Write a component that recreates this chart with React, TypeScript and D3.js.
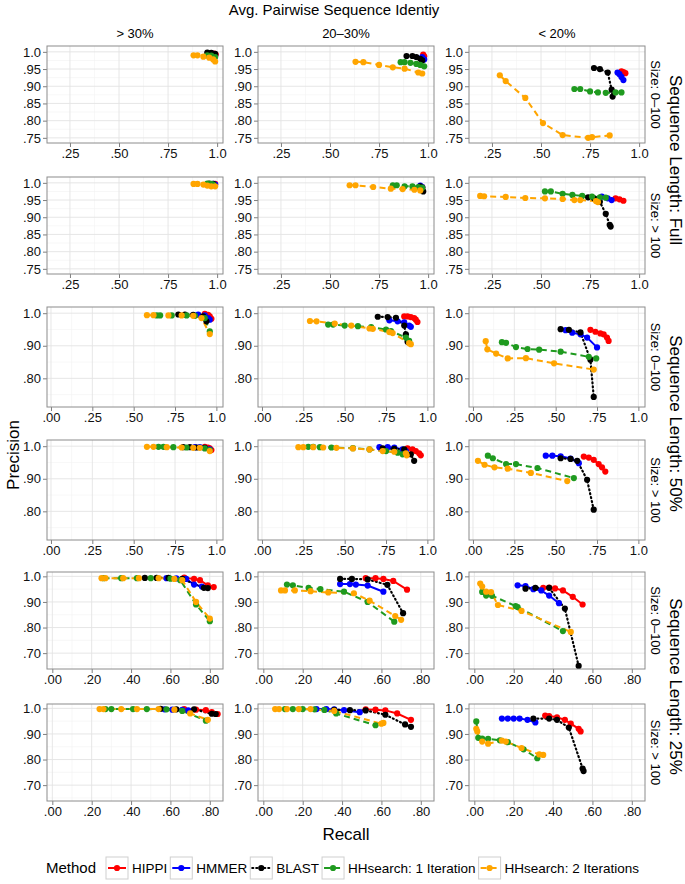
import React, { useEffect, useRef } from 'react';
import * as d3 from 'd3';

type Pt = [number, number];
type Panel = { HIPPI: Pt[]; HMMER: Pt[]; BLAST: Pt[]; HH1: Pt[]; HH2: Pt[] };

const methods = ['HIPPI', 'HMMER', 'BLAST', 'HH1', 'HH2'];
const methodNames = ['HIPPI', 'HMMER', 'BLAST', 'HHsearch: 1 Iteration', 'HHsearch: 2 Iterations'];
const methodColors = ['#ff0000', '#0000ff', '#000000', '#1f9a1f', '#ffa500'];
const methodDash = ['', '', '1,3', '6,4', '6,4'];

const identityLabels = ['> 30%', '20–30%', '< 20%'];
const sizeLabels = ['Size: 0–100', 'Size: > 100'];
const lengthLabels = ['Sequence Length: Full', 'Sequence Length: 50%', 'Sequence Length: 25%'];

const xTicksFull = [0.25, 0.5, 0.75, 1.0];
const yTicksFull = [0.75, 0.8, 0.85, 0.9, 0.95, 1.0];
const xTicksHalf = [0, 0.25, 0.5, 0.75, 1.0];
const yTicksHalf = [0.8, 0.9, 1.0];
const xTicksQuarter = [0, 0.2, 0.4, 0.6, 0.8];
const yTicksQuarter = [0.7, 0.8, 0.9, 1.0];

// Sequence length: Full
const fullSmallHigh: Panel = {
  HIPPI: [[0.985, 0.995], [0.993, 0.992]],
  HMMER: [[0.975, 0.995], [0.99, 0.99]],
  BLAST: [[0.95, 0.998], [0.97, 0.997], [0.99, 0.994]],
  HH1: [[0.95, 0.99], [0.97, 0.989], [0.99, 0.985]],
  HH2: [[0.88, 0.99], [0.9, 0.99], [0.93, 0.986], [0.96, 0.983], [0.98, 0.978], [0.99, 0.972]],
};
const fullSmallMid: Panel = {
  HIPPI: [[0.975, 0.992], [0.98, 0.987]],
  HMMER: [[0.97, 0.985], [0.98, 0.978]],
  BLAST: [[0.89, 0.988], [0.92, 0.988], [0.94, 0.985], [0.96, 0.98], [0.97, 0.975]],
  HH1: [[0.86, 0.97], [0.88, 0.97], [0.91, 0.968], [0.94, 0.965], [0.96, 0.962], [0.98, 0.958]],
  HH2: [[0.63, 0.971], [0.67, 0.97], [0.75, 0.962], [0.82, 0.955], [0.88, 0.951], [0.95, 0.94], [0.97, 0.937]],
};
const fullSmallLow: Panel = {
  HIPPI: [[0.91, 0.943], [0.92, 0.941], [0.93, 0.938]],
  HMMER: [[0.89, 0.94], [0.9, 0.935], [0.91, 0.927], [0.92, 0.918]],
  BLAST: [[0.77, 0.953], [0.8, 0.95], [0.84, 0.94], [0.86, 0.89], [0.865, 0.87]],
  HH1: [[0.67, 0.892], [0.7, 0.892], [0.75, 0.885], [0.79, 0.882], [0.83, 0.881], [0.88, 0.882], [0.91, 0.882]],
  HH2: [[0.29, 0.932], [0.32, 0.915], [0.42, 0.866], [0.51, 0.793], [0.61, 0.758], [0.74, 0.75], [0.76, 0.752], [0.85, 0.757]],
};
const fullLargeHigh: Panel = {
  HIPPI: [[0.99, 0.997]],
  HMMER: [[0.98, 0.997], [0.99, 0.995]],
  BLAST: [[0.96, 0.998], [0.98, 0.997]],
  HH1: [[0.95, 0.998], [0.97, 0.997], [0.98, 0.995]],
  HH2: [[0.88, 0.997], [0.9, 0.997], [0.93, 0.995], [0.95, 0.992], [0.97, 0.99], [0.99, 0.99]],
};
const fullLargeMid: Panel = {
  HIPPI: [[0.97, 0.988]],
  HMMER: [[0.96, 0.992], [0.97, 0.988]],
  BLAST: [[0.96, 0.99], [0.97, 0.985], [0.975, 0.975]],
  HH1: [[0.82, 0.993], [0.84, 0.993], [0.88, 0.99], [0.92, 0.99], [0.95, 0.988], [0.97, 0.986]],
  HH2: [[0.6, 0.993], [0.63, 0.993], [0.72, 0.988], [0.81, 0.983], [0.87, 0.982], [0.93, 0.98], [0.96, 0.978]],
};
const fullLargeLow: Panel = {
  HIPPI: [[0.88, 0.955], [0.9, 0.952], [0.92, 0.948]],
  HMMER: [[0.81, 0.96], [0.84, 0.955], [0.86, 0.95]],
  BLAST: [[0.74, 0.958], [0.77, 0.955], [0.8, 0.945], [0.83, 0.91], [0.85, 0.878], [0.855, 0.873]],
  HH1: [[0.52, 0.975], [0.55, 0.975], [0.61, 0.968], [0.66, 0.965], [0.71, 0.962], [0.76, 0.96], [0.8, 0.958], [0.83, 0.957]],
  HH2: [[0.19, 0.962], [0.21, 0.961], [0.32, 0.959], [0.42, 0.956], [0.52, 0.955], [0.61, 0.953], [0.67, 0.95], [0.7, 0.95], [0.78, 0.947], [0.79, 0.944]],
};

// Sequence length: 50%
const halfSmallHigh: Panel = {
  HIPPI: [[0.93, 0.998], [0.95, 0.995], [0.96, 0.99], [0.97, 0.983]],
  HMMER: [[0.89, 0.996], [0.93, 0.993], [0.95, 0.985], [0.96, 0.98]],
  BLAST: [[0.77, 0.996], [0.81, 0.996], [0.86, 0.995], [0.92, 0.99], [0.94, 0.975]],
  HH1: [[0.64, 0.993], [0.66, 0.993], [0.73, 0.993], [0.82, 0.993], [0.87, 0.992], [0.93, 0.985], [0.96, 0.944]],
  HH2: [[0.58, 0.994], [0.62, 0.994], [0.71, 0.993], [0.79, 0.993], [0.86, 0.992], [0.91, 0.985], [0.96, 0.936]],
};
const halfSmallMid: Panel = {
  HIPPI: [[0.86, 0.99], [0.88, 0.99], [0.9, 0.988], [0.92, 0.985], [0.93, 0.98], [0.94, 0.973]],
  HMMER: [[0.77, 0.978], [0.82, 0.975], [0.86, 0.972], [0.89, 0.962], [0.9, 0.958]],
  BLAST: [[0.7, 0.989], [0.76, 0.988], [0.81, 0.986], [0.86, 0.962], [0.87, 0.935], [0.88, 0.912]],
  HH1: [[0.4, 0.965], [0.43, 0.965], [0.5, 0.962], [0.58, 0.96], [0.66, 0.957], [0.75, 0.95], [0.78, 0.945], [0.87, 0.925], [0.89, 0.915]],
  HH2: [[0.29, 0.976], [0.33, 0.975], [0.44, 0.968], [0.54, 0.962], [0.65, 0.953], [0.67, 0.952], [0.77, 0.942], [0.79, 0.939], [0.89, 0.908], [0.9, 0.905]],
};
const halfSmallLow: Panel = {
  HIPPI: [[0.71, 0.949], [0.74, 0.943], [0.77, 0.938], [0.79, 0.935], [0.81, 0.925], [0.82, 0.915]],
  HMMER: [[0.56, 0.948], [0.6, 0.94], [0.65, 0.935], [0.69, 0.925], [0.75, 0.895]],
  BLAST: [[0.53, 0.951], [0.58, 0.949], [0.65, 0.941], [0.71, 0.857], [0.73, 0.743]],
  HH1: [[0.175, 0.911], [0.2, 0.909], [0.26, 0.896], [0.33, 0.89], [0.4, 0.888], [0.53, 0.882], [0.7, 0.866], [0.745, 0.861]],
  HH2: [[0.077, 0.914], [0.087, 0.889], [0.14, 0.876], [0.21, 0.861], [0.32, 0.862], [0.49, 0.846], [0.73, 0.827]],
};
const halfLargeHigh: Panel = {
  HIPPI: [[0.93, 0.998], [0.95, 0.996], [0.96, 0.993], [0.97, 0.988]],
  HMMER: [[0.87, 0.997], [0.9, 0.997], [0.93, 0.995], [0.96, 0.99]],
  BLAST: [[0.8, 0.997], [0.84, 0.997], [0.88, 0.996], [0.93, 0.995]],
  HH1: [[0.65, 0.998], [0.68, 0.998], [0.74, 0.997], [0.82, 0.996], [0.93, 0.993], [0.96, 0.988]],
  HH2: [[0.58, 0.998], [0.62, 0.998], [0.7, 0.997], [0.79, 0.996], [0.86, 0.995], [0.9, 0.995], [0.96, 0.985]],
};
const halfLargeMid: Panel = {
  HIPPI: [[0.88, 0.993], [0.91, 0.99], [0.93, 0.985], [0.95, 0.978], [0.96, 0.972]],
  HMMER: [[0.71, 0.997], [0.76, 0.997], [0.8, 0.996], [0.85, 0.99], [0.87, 0.985]],
  BLAST: [[0.73, 0.993], [0.8, 0.992], [0.86, 0.99], [0.9, 0.975], [0.92, 0.955]],
  HH1: [[0.28, 0.998], [0.31, 0.998], [0.35, 0.997], [0.42, 0.996], [0.55, 0.994], [0.65, 0.99], [0.75, 0.985], [0.82, 0.98], [0.85, 0.975]],
  HH2: [[0.22, 0.997], [0.25, 0.997], [0.31, 0.997], [0.37, 0.996], [0.45, 0.995], [0.55, 0.993], [0.65, 0.99], [0.73, 0.985], [0.8, 0.983], [0.87, 0.978], [0.875, 0.972]],
};
const halfLargeLow: Panel = {
  HIPPI: [[0.67, 0.968], [0.7, 0.965], [0.73, 0.958], [0.76, 0.945], [0.78, 0.935], [0.8, 0.922]],
  HMMER: [[0.44, 0.971], [0.48, 0.971], [0.53, 0.969], [0.59, 0.962], [0.64, 0.948]],
  BLAST: [[0.53, 0.963], [0.59, 0.961], [0.63, 0.955], [0.69, 0.897], [0.73, 0.805]],
  HH1: [[0.09, 0.971], [0.12, 0.963], [0.2, 0.945], [0.26, 0.945], [0.39, 0.933], [0.61, 0.902]],
  HH2: [[0.03, 0.955], [0.07, 0.943], [0.13, 0.935], [0.21, 0.931], [0.35, 0.918], [0.57, 0.893]],
};

// Sequence length: 25%
const quarterSmallHigh: Panel = {
  HIPPI: [[0.67, 0.995], [0.72, 0.99], [0.75, 0.985], [0.79, 0.965], [0.82, 0.958]],
  HMMER: [[0.58, 0.993], [0.63, 0.992], [0.68, 0.99], [0.72, 0.968], [0.76, 0.96]],
  BLAST: [[0.47, 0.994], [0.53, 0.994], [0.59, 0.994], [0.66, 0.99], [0.77, 0.955], [0.79, 0.954]],
  HH1: [[0.26, 0.993], [0.35, 0.993], [0.43, 0.993], [0.5, 0.993], [0.6, 0.991], [0.65, 0.985], [0.73, 0.89], [0.8, 0.825]],
  HH2: [[0.25, 0.993], [0.27, 0.993], [0.36, 0.993], [0.44, 0.993], [0.54, 0.993], [0.62, 0.99], [0.66, 0.985], [0.73, 0.9], [0.8, 0.835]],
};
const quarterSmallMid: Panel = {
  HIPPI: [[0.52, 0.993], [0.57, 0.993], [0.61, 0.99], [0.66, 0.982], [0.73, 0.948]],
  HMMER: [[0.39, 0.97], [0.44, 0.97], [0.47, 0.968], [0.53, 0.964], [0.61, 0.94]],
  BLAST: [[0.39, 0.99], [0.45, 0.99], [0.53, 0.988], [0.63, 0.967], [0.71, 0.856]],
  HH1: [[0.12, 0.968], [0.15, 0.965], [0.23, 0.955], [0.29, 0.95], [0.41, 0.94], [0.53, 0.9], [0.665, 0.823]],
  HH2: [[0.09, 0.945], [0.11, 0.945], [0.16, 0.945], [0.24, 0.942], [0.33, 0.937], [0.46, 0.934], [0.54, 0.905], [0.67, 0.845], [0.7, 0.83]],
};
const quarterSmallLow: Panel = {
  HIPPI: [[0.35, 0.955], [0.38, 0.956], [0.41, 0.953], [0.45, 0.945], [0.5, 0.92], [0.55, 0.89]],
  HMMER: [[0.22, 0.965], [0.26, 0.962], [0.3, 0.95], [0.34, 0.945], [0.38, 0.925], [0.43, 0.895]],
  BLAST: [[0.26, 0.952], [0.31, 0.955], [0.38, 0.955], [0.46, 0.874], [0.53, 0.65]],
  HH1: [[0.04, 0.939], [0.06, 0.925], [0.09, 0.924], [0.21, 0.884], [0.22, 0.88], [0.45, 0.786]],
  HH2: [[0.03, 0.972], [0.04, 0.96], [0.06, 0.94], [0.085, 0.938], [0.12, 0.888], [0.24, 0.865], [0.49, 0.783]],
};
const quarterLargeHigh: Panel = {
  HIPPI: [[0.67, 0.997], [0.73, 0.995], [0.78, 0.993], [0.81, 0.985], [0.84, 0.978]],
  HMMER: [[0.57, 0.996], [0.61, 0.995], [0.66, 0.994], [0.69, 0.992]],
  BLAST: [[0.55, 0.998], [0.63, 0.996], [0.72, 0.996], [0.81, 0.979], [0.83, 0.978]],
  HH1: [[0.27, 0.997], [0.3, 0.997], [0.41, 0.997], [0.48, 0.997], [0.58, 0.996], [0.66, 0.99], [0.78, 0.952]],
  HH2: [[0.24, 0.997], [0.26, 0.997], [0.35, 0.997], [0.43, 0.997], [0.54, 0.997], [0.62, 0.995], [0.7, 0.98], [0.79, 0.955]],
};
const quarterLargeMid: Panel = {
  HIPPI: [[0.52, 0.996], [0.57, 0.995], [0.62, 0.992], [0.68, 0.98], [0.75, 0.955]],
  HMMER: [[0.27, 0.997], [0.32, 0.997], [0.36, 0.996], [0.41, 0.993], [0.49, 0.985]],
  BLAST: [[0.36, 0.994], [0.44, 0.993], [0.52, 0.992], [0.62, 0.975], [0.72, 0.937], [0.75, 0.928]],
  HH1: [[0.11, 0.997], [0.15, 0.997], [0.2, 0.997], [0.26, 0.996], [0.31, 0.994], [0.37, 0.98], [0.57, 0.934]],
  HH2: [[0.06, 0.997], [0.08, 0.997], [0.12, 0.997], [0.18, 0.997], [0.24, 0.997], [0.36, 0.99], [0.6, 0.94], [0.61, 0.943]],
};
const quarterLargeLow: Panel = {
  HIPPI: [[0.36, 0.972], [0.38, 0.97], [0.42, 0.965], [0.46, 0.955], [0.49, 0.94], [0.53, 0.92], [0.54, 0.91]],
  HMMER: [[0.14, 0.96], [0.17, 0.96], [0.2, 0.96], [0.23, 0.96], [0.27, 0.955], [0.31, 0.945]],
  BLAST: [[0.3, 0.96], [0.38, 0.96], [0.42, 0.955], [0.48, 0.925], [0.55, 0.765], [0.555, 0.755]],
  HH1: [[0.01, 0.949], [0.02, 0.885], [0.04, 0.882], [0.07, 0.881], [0.13, 0.875], [0.17, 0.868], [0.25, 0.84], [0.32, 0.805]],
  HH2: [[0.01, 0.92], [0.015, 0.91], [0.04, 0.87], [0.07, 0.862], [0.14, 0.874], [0.16, 0.87], [0.24, 0.845], [0.33, 0.82], [0.35, 0.818]],
};

const W = 685;
const H = 884;
const colLeft = [47, 258, 469];
const panelW = 176;
const font = 'Liberation Sans, Arial, Helvetica, sans-serif';

const groups = [
  {
    rows: [[fullSmallHigh, fullSmallMid, fullSmallLow], [fullLargeHigh, fullLargeMid, fullLargeLow]],
    tops: [46, 177], h: 97,
    xDomain: [0.133, 1.03], yDomain: [0.735, 1.017],
    xTicks: xTicksFull, yTicks: yTicksFull,
  },
  {
    rows: [[halfSmallHigh, halfSmallMid, halfSmallLow], [halfLargeHigh, halfLargeMid, halfLargeLow]],
    tops: [307, 440], h: 100,
    xDomain: [-0.024, 1.04], yDomain: [0.712, 1.019],
    xTicks: xTicksHalf, yTicks: yTicksHalf,
  },
  {
    rows: [[quarterSmallHigh, quarterSmallMid, quarterSmallLow], [quarterLargeHigh, quarterLargeMid, quarterLargeLow]],
    tops: [572, 704], h: 97,
    xDomain: [-0.027, 0.867], yDomain: [0.638, 1.017],
    xTicks: xTicksQuarter, yTicks: yTicksQuarter,
  },
];

const fmt = (v: number) => (v >= 0.999 ? '1.0' : d3.format('.2f')(v).replace(/^0/, ''));

const minors = (ticks: number[], domain: number[]) => {
  const step = ticks[1] - ticks[0];
  return ticks.map(t => t - step / 2).concat([ticks[ticks.length - 1] + step / 2])
    .filter(v => v > domain[0] && v < domain[1]);
};

const App = () => {
  const ref = useRef<SVGSVGElement>(null);

  useEffect(() => {
    document.body.style.margin = '0';
    const svg = d3.select(ref.current);
    svg.selectAll('*').remove();
    svg.append('rect').attr('width', W).attr('height', H).attr('fill', '#fff');

    // top title and column strips
    svg.append('text').attr('x', 334).attr('y', 15).attr('text-anchor', 'middle')
      .attr('font-size', 15).attr('font-family', font).text('Avg. Pairwise Sequence Identiy');
    identityLabels.forEach((lab, i) => {
      svg.append('text').attr('x', colLeft[i] + panelW / 2).attr('y', 38).attr('text-anchor', 'middle')
        .attr('font-size', 13).attr('font-family', font).text(lab);
    });

    groups.forEach((grp, gi) => {
      const ys = grp.tops.map(top => d3.scaleLinear().domain(grp.yDomain).range([top + grp.h, top]));
      grp.rows.forEach((row, ri) => {
        const top = grp.tops[ri];
        const y = ys[ri];
        row.forEach((panel, ci) => {
          const left = colLeft[ci];
          const x = d3.scaleLinear().domain(grp.xDomain).range([left, left + panelW]);
          const g = svg.append('g');

          // grid
          minors(grp.xTicks, grp.xDomain).forEach(v => {
            g.append('line').attr('x1', x(v)).attr('x2', x(v)).attr('y1', top).attr('y2', top + grp.h)
              .attr('stroke', '#f2f2f2').attr('stroke-width', 0.6);
          });
          minors(grp.yTicks, grp.yDomain).forEach(v => {
            g.append('line').attr('x1', left).attr('x2', left + panelW).attr('y1', y(v)).attr('y2', y(v))
              .attr('stroke', '#f2f2f2').attr('stroke-width', 0.6);
          });
          grp.xTicks.forEach(v => {
            g.append('line').attr('x1', x(v)).attr('x2', x(v)).attr('y1', top).attr('y2', top + grp.h)
              .attr('stroke', '#e3e3e3').attr('stroke-width', 0.9);
          });
          grp.yTicks.forEach(v => {
            g.append('line').attr('x1', left).attr('x2', left + panelW).attr('y1', y(v)).attr('y2', y(v))
              .attr('stroke', '#e3e3e3').attr('stroke-width', 0.9);
          });

          // axes
          const xAxis = g.append('g').attr('transform', `translate(0,${top + grp.h})`)
            .call(d3.axisBottom(x).tickValues(grp.xTicks).tickFormat(d => fmt(+d)).tickSize(4).tickPadding(2));
          const yAxis = g.append('g').attr('transform', `translate(${left},0)`)
            .call(d3.axisLeft(y).tickValues(grp.yTicks).tickFormat(d => fmt(+d)).tickSize(4).tickPadding(2));
          [xAxis, yAxis].forEach(a => {
            a.select('.domain').remove();
            a.selectAll('line').attr('stroke', '#7f7f7f');
            a.selectAll('text').attr('font-size', 13).attr('font-family', font).attr('fill', '#111');
          });

          // lines then points
          const line = d3.line<Pt>().x(d => x(d[0])).y(d => y(d[1]));
          methods.forEach((m, mi) => {
            const pts = (panel as any)[m] as Pt[];
            g.append('path').datum(pts).attr('d', line).attr('fill', 'none')
              .attr('stroke', methodColors[mi]).attr('stroke-width', mi === 2 ? 2.2 : 2)
              .attr('stroke-linecap', mi === 2 ? 'round' : 'butt')
              .attr('stroke-dasharray', methodDash[mi] || null);
          });
          methods.forEach((m, mi) => {
            const pts = (panel as any)[m] as Pt[];
            g.selectAll(null).data(pts).enter().append('circle')
              .attr('cx', d => x(d[0])).attr('cy', d => y(d[1])).attr('r', 3.1)
              .attr('fill', methodColors[mi]);
          });

          g.append('rect').attr('x', left).attr('y', top).attr('width', panelW).attr('height', grp.h)
            .attr('fill', 'none').attr('stroke', '#8c8c8c').attr('stroke-width', 1);
        });

        // size strip
        const cy = top + grp.h / 2;
        svg.append('text').attr('transform', `translate(651,${cy}) rotate(90)`).attr('text-anchor', 'middle')
          .attr('font-size', 13).attr('font-family', font).text(sizeLabels[ri]);
      });

      // sequence length strip
      const mid = (grp.tops[0] + grp.tops[1] + grp.h) / 2;
      svg.append('text').attr('transform', `translate(670,${mid}) rotate(90)`).attr('text-anchor', 'middle')
        .attr('font-size', 17).attr('font-family', font).text(lengthLabels[gi]);
    });

    // axis titles
    svg.append('text').attr('transform', 'translate(19,455) rotate(-90)').attr('text-anchor', 'middle')
      .attr('font-size', 17).attr('font-family', font).text('Precision');
    svg.append('text').attr('x', 346).attr('y', 840).attr('text-anchor', 'middle')
      .attr('font-size', 17).attr('font-family', font).text('Recall');

    // legend
    const leg = svg.append('g').attr('transform', 'translate(0,868)');
    leg.append('text').attr('x', 46).attr('y', 5).attr('font-size', 15).attr('font-family', font).text('Method');
    let lx = 106;
    methodNames.forEach((name, mi) => {
      const k = leg.append('g').attr('transform', `translate(${lx},0)`);
      k.append('rect').attr('x', 0).attr('y', -11).attr('width', 22).attr('height', 22)
        .attr('fill', '#fff').attr('stroke', '#cfcfcf').attr('stroke-width', 1);
      k.append('line').attr('x1', 2).attr('x2', 20).attr('y1', 0).attr('y2', 0)
        .attr('stroke', methodColors[mi]).attr('stroke-width', mi === 2 ? 2.2 : 2)
        .attr('stroke-linecap', mi === 2 ? 'round' : 'butt')
        .attr('stroke-dasharray', methodDash[mi] || null);
      k.append('circle').attr('cx', 11).attr('cy', 0).attr('r', 3.1).attr('fill', methodColors[mi]);
      const t = k.append('text').attr('x', 26).attr('y', 5).attr('font-size', 13.5)
        .attr('font-family', font).text(name);
      const tw = (t.node() as SVGTextElement).getComputedTextLength();
      lx += 26 + tw + 3;
    });
  }, []);

  return <svg ref={ref} width={W} height={H} style={{ display: 'block' }} />;
};

export default App;
